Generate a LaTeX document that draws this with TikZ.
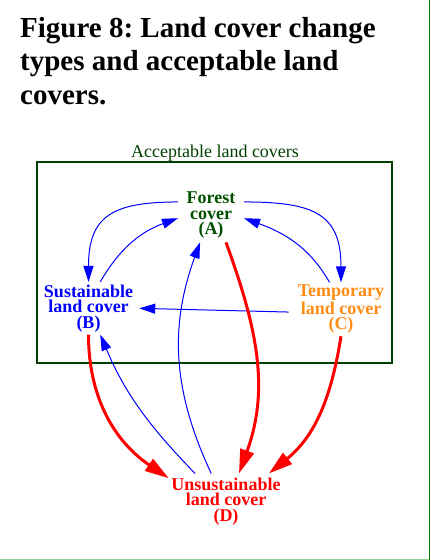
\documentclass[tikz,border=0pt]{standalone}
\usepackage{fontspec}
\setmainfont{Liberation Serif}
\usetikzlibrary{arrows.meta}
\definecolor{forestGreen}{RGB}{0,80,0}
\definecolor{boxGreen}{RGB}{0,64,0}
\definecolor{tempOrange}{RGB}{255,140,20}
\definecolor{frameGreen}{RGB}{0,128,0}
\frenchspacing

\begin{document}
\begin{tikzpicture}[x=1pt,y=1pt,
  cover/.style={align=center,inner ysep=3pt,font=\bfseries\fontsize{18}{15.5}\selectfont},
  blueedge/.style={blue,line width=1pt,-{Triangle[length=16pt,width=10pt]}},
  rededge/.style={red,line width=3pt,-{Triangle[length=24pt,width=14pt]}}]
  \useasboundingbox (0,0) rectangle (431,-560);
  % page frame
  \coordinate (frameTop) at (429.8,0);
  \coordinate (frameCorner) at (429.8,-559.5);
  \coordinate (frameLeft) at (0,-559.5);
  \draw[green!60!black!45!white,line width=1pt] (frameLeft) -- (frameCorner);
  \draw[frameGreen,line width=1pt] (frameCorner) -- (frameTop);
  % title
  \node[anchor=north west,align=left,inner sep=0pt,
        font=\bfseries\fontsize{29}{33.3}\selectfont] (title) at (20,-17.2)
    {Figure 8: Land cover change\\types and acceptable land\\covers.};
  % acceptable box
  \node[anchor=base,inner sep=0pt,text=boxGreen,font=\fontsize{18}{20}\selectfont] (acc) at (215,-157) {Acceptable land covers};
  \draw[boxGreen,line width=1.2pt] (37,-162) rectangle (392,-363);
  % land covers
  \node[cover,text=forestGreen,inner xsep=8.5pt,inner ysep=3.5pt] (A) at (211,-215.3) {Forest\\cover\\(A)};
  \node[cover,text=blue,inner xsep=6pt,inner ysep=2.5pt] (B) at (88.5,-308.3) {Sustainable\\land cover\\(B)};
  \node[cover,text=tempOrange,inner xsep=9pt,inner ysep=2.5pt] (C) at (341,-309.3) {Temporary\\land cover\\(C)};
  \node[cover,text=red,inner xsep=2.5pt,inner ysep=4pt] (D) at (226,-501.3) {Unsustainable\\land cover\\(D)};
  % acceptable changes
  \draw[blueedge] (A.158) to[out=180,in=90,looseness=1.4] (B.north);
  \draw[blueedge] (B.66) to[out=60,in=200] (A.185);
  \draw[blueedge] (A.22) to[out=0,in=90,looseness=1.4] (C.north);
  \draw[blueedge] (C.113) to[out=120,in=-20] (A.355);
  \draw[blueedge] (C.183) -- (B.east);
  \draw[blueedge] (D.118) to[out=115,in=250] (A.248);
  \draw[blueedge] (D.138) to[out=134,in=293] (B.294);
  % unsustainable changes
  \draw[rededge] (B.south) to[out=-90,in=146] (D.158);
  \draw[rededge] (A.299) to[out=-70,in=70] (D.65);
  \draw[rededge] (C.south) to[out=261,in=39] (D.33);
\end{tikzpicture}
\end{document}
